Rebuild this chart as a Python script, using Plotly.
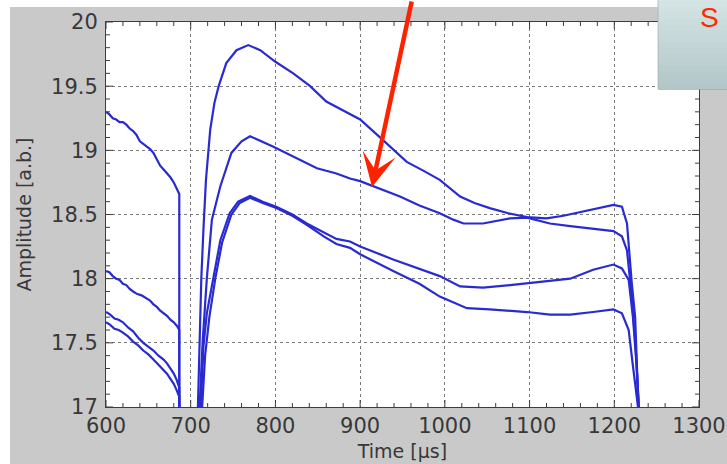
import plotly.graph_objects as go

# Amplitude traces over time, four pulses
time_a = [600, 604, 608, 612, 616, 620, 624, 628, 632, 636, 640, 644, 648, 652, 656,
          660, 664, 668, 672, 676, 680, 684, 686.5, 686.5,
          707, 708.5, 710.5, 712.5, 715, 718, 723, 728, 733, 742, 754, 768, 782, 800,
          821, 841, 860, 880, 900, 927, 955, 975, 994, 1018, 1035, 1053, 1075, 1097,
          1120, 1140, 1160, 1175, 1190, 1199, 1209, 1215, 1220.6, 1224.6, 1228.5, 1230]
amp_a = [19.30, 19.28, 19.25, 19.24, 19.22, 19.22, 19.20, 19.17, 19.15, 19.12, 19.07,
         19.05, 19.03, 19.01, 18.98, 18.93, 18.88, 18.85, 18.82, 18.79, 18.75, 18.70,
         18.66, 16.5, 16.5, 17.0, 17.5, 18.0, 18.38, 18.77, 19.16, 19.37, 19.50,
         19.68, 19.78, 19.82, 19.78, 19.69, 19.60, 19.50, 19.38, 19.31, 19.24, 19.08,
         18.91, 18.84, 18.77, 18.64, 18.59, 18.55, 18.51, 18.48, 18.47, 18.49, 18.52,
         18.54, 18.565, 18.575, 18.56, 18.43, 17.97, 17.70, 17.0, 16.5]

time_b = [600, 604, 608, 612, 616, 620, 624, 628, 632, 637, 642, 647, 652, 656, 660,
          664, 668, 672, 676, 680, 684, 686.5, 686.5, 709,
          710.5, 714, 719, 725, 735, 748, 760, 770, 797, 821, 849, 872, 888, 900, 916,
          947, 970, 994, 1010, 1022, 1045, 1077, 1097, 1124, 1148, 1175, 1199, 1209,
          1215, 1220, 1225, 1229, 1230]
amp_b = [18.06, 18.05, 18.02, 18.00, 17.99, 17.96, 17.95, 17.92, 17.90, 17.88, 17.87,
         17.85, 17.83, 17.80, 17.78, 17.75, 17.73, 17.71, 17.68, 17.66, 17.63, 17.60,
         16.5, 16.5, 17.0, 17.5, 18.0, 18.46, 18.72, 18.98, 19.07, 19.11, 19.03,
         18.95, 18.86, 18.82, 18.78, 18.76, 18.72, 18.64, 18.57, 18.51, 18.46, 18.43,
         18.43, 18.47, 18.475, 18.43, 18.41, 18.39, 18.37, 18.33, 18.22, 17.9, 17.5,
         17.0, 16.5]

time_c = [600, 605, 610, 615, 620, 626, 632, 638, 644, 650, 656, 662, 668, 672, 676,
          680, 683.5, 686.5, 686.5, 710, 712, 715,
          719, 727, 735, 746, 756, 770, 785, 801, 820, 837, 857, 872, 888, 900, 939,
          970, 994, 1018, 1045, 1077, 1097, 1120, 1148, 1175, 1199, 1209, 1217, 1222,
          1226, 1229, 1230]
amp_c = [17.74, 17.72, 17.69, 17.68, 17.66, 17.62, 17.59, 17.54, 17.50, 17.47, 17.44,
         17.40, 17.37, 17.34, 17.30, 17.26, 17.21, 17.15, 16.5,
         16.5, 17.0, 17.47, 17.73, 18.02, 18.30, 18.51, 18.60, 18.645, 18.60, 18.56,
         18.50, 18.43, 18.36, 18.31, 18.29, 18.25, 18.15, 18.08, 18.02, 17.94, 17.93,
         17.95, 17.965, 17.98, 18.00, 18.07, 18.11, 18.08, 17.99, 17.7, 17.35, 17.0, 16.5]

time_d = [600, 605, 610, 615, 620, 626, 632, 638, 644, 650, 656, 662, 668, 672, 676,
          680, 683.5, 686.5, 686.5, 711, 713.5, 717,
          722, 729, 737, 748, 758, 770, 785, 801, 820, 837, 857, 872, 888, 900, 939,
          970, 994, 1026, 1053, 1097, 1124, 1148, 1175, 1199, 1209, 1217, 1222, 1226,
          1228, 1229.5]
amp_d = [17.66, 17.64, 17.61, 17.60, 17.58, 17.55, 17.51, 17.48, 17.44, 17.41, 17.37,
         17.33, 17.29, 17.26, 17.22, 17.18, 17.13, 17.08, 16.5,
         16.5, 17.0, 17.4, 17.7, 18.0, 18.28, 18.50, 18.59, 18.63, 18.59, 18.55, 18.49,
         18.42, 18.33, 18.27, 18.24, 18.19, 18.06, 17.96, 17.86, 17.77, 17.76, 17.74,
         17.72, 17.72, 17.74, 17.76, 17.73, 17.60, 17.32, 17.1, 17.0, 16.5]

x_ticks = [600, 700, 800, 900, 1000, 1100, 1200, 1300]
y_ticks = [17, 17.5, 18, 18.5, 19, 19.5, 20]
x_minor_step = 20
y_minor_step = 0.1
x_range = [x_ticks[0], x_ticks[-1]]
y_range = [y_ticks[0], y_ticks[-1]]

# pointer target on the second trace
pointer_time = 914
pointer_amp = 18.715

LINE = "rgb(42,42,210)"
GRAY = "#c9c9c9"
TEXT = "#383838"
AXIS = "#3c3c3c"
TICK_FONT = "DejaVu Sans, sans-serif"
CAPTION_FONT = "Liberation Sans, Arial, sans-serif"

fig = go.Figure()
for tx, ay in [(time_a, amp_a), (time_b, amp_b), (time_c, amp_c), (time_d, amp_d)]:
    fig.add_trace(go.Scatter(x=tx, y=ay, mode="lines",
                             line=dict(color=LINE, width=2.2),
                             showlegend=False, hoverinfo="skip"))

# plot area geometry in pixels
L, R, T, B = 106, 28, 22, 57
W, H = 727, 464
pw, ph = W - L - R, H - T - B


def px_x(p):
    return (p - L) / pw


def px_y(p):
    return (H - B - p) / ph


shapes = [
    # white strips along the top and left of the grey window
    dict(type="rect", xref="paper", yref="paper", layer="above",
         x0=px_x(-5), x1=px_x(10), y0=px_y(H + 5), y1=px_y(-5),
         fillcolor="white", line=dict(width=0)),
    dict(type="rect", xref="paper", yref="paper", layer="above",
         x0=px_x(-5), x1=px_x(W + 5), y0=px_y(7), y1=px_y(-5),
         fillcolor="white", line=dict(width=0)),
]

# inward tick marks on all four sides of the frame (major and minor)
MAJOR_LEN, MINOR_LEN = 7, 4
n_x = int(round((x_range[1] - x_range[0]) / x_minor_step))
for i in range(n_x + 1):
    v = x_range[0] + i * x_minor_step
    ln = MAJOR_LEN if any(abs(v - t) < 1e-9 for t in x_ticks) else MINOR_LEN
    for base, sign in ((0.0, 1), (1.0, -1)):
        shapes.append(dict(type="line", xref="x", yref="paper", layer="above",
                           x0=v, x1=v, y0=base, y1=base + sign * ln / ph,
                           line=dict(color=AXIS, width=1)))
n_y = int(round((y_range[1] - y_range[0]) / y_minor_step))
for i in range(n_y + 1):
    v = round(y_range[0] + i * y_minor_step, 6)
    ln = MAJOR_LEN if any(abs(v - t) < 1e-9 for t in y_ticks) else MINOR_LEN
    for base, sign in ((0.0, 1), (1.0, -1)):
        shapes.append(dict(type="line", xref="paper", yref="y", layer="above",
                           x0=base, x1=base + sign * ln / pw, y0=v, y1=v,
                           line=dict(color=AXIS, width=1)))

# caption panel in the top-right corner (vertical gradient in bands)
top_c = (214, 229, 231)
bot_c = (180, 199, 200)
n = 16
bx0, bx1, by0, by1 = 658, W + 5, -5, 89
for i in range(n):
    f = i / (n - 1)
    c = tuple(int(top_c[k] + (bot_c[k] - top_c[k]) * f) for k in range(3))
    ya = by0 + (by1 - by0) * i / n
    yb = min(by1, by0 + (by1 - by0) * (i + 1) / n + 1.5)
    shapes.append(dict(type="rect", xref="paper", yref="paper", layer="above",
                       x0=px_x(bx0), x1=px_x(bx1), y0=px_y(yb), y1=px_y(ya),
                       fillcolor="rgb(%d,%d,%d)" % c, line=dict(width=0)))
shapes.append(dict(type="line", xref="paper", yref="paper", layer="above",
                   x0=px_x(bx0), x1=px_x(bx0), y0=px_y(by1), y1=px_y(0),
                   line=dict(color="rgba(160,178,178,0.7)", width=1)))
shapes.append(dict(type="line", xref="paper", yref="paper", layer="above",
                   x0=px_x(bx0), x1=px_x(bx1), y0=px_y(by1 + 0.5), y1=px_y(by1 + 0.5),
                   line=dict(color="rgba(150,168,168,0.7)", width=1)))

axis_common = dict(
    showline=True, linecolor=AXIS, linewidth=1, mirror=True,
    automargin=False, ticks="",
    showgrid=True, gridcolor="#7a7a7a", griddash="dot", gridwidth=1,
    zeroline=False,
    tickfont=dict(family=TICK_FONT, size=21, color=TEXT),
)

fig.update_layout(
    width=W, height=H,
    margin=dict(l=L, r=R, t=T, b=B),
    paper_bgcolor=GRAY, plot_bgcolor="white",
    shapes=shapes,
    xaxis=dict(range=x_range, tickvals=x_ticks,
               title=dict(text="Time [µs]", standoff=7,
                          font=dict(family=TICK_FONT, size=19, color=TEXT)),
               **axis_common),
    yaxis=dict(range=y_range, tickvals=y_ticks,
               ticklabelstandoff=3,
               title=dict(text="Amplitude [a.b.]", standoff=14,
                          font=dict(family=TICK_FONT, size=19, color=TEXT)),
               **axis_common),
    annotations=[
        dict(x=pointer_time, y=pointer_amp, xref="x", yref="y",
             ax=40, ay=-192, axref="pixel", ayref="pixel",
             showarrow=True, arrowhead=3, arrowsize=1.25, arrowwidth=4.5,
             arrowcolor="#ff2200", text=""),
        dict(x=px_x(698), y=px_y(17), xref="paper", yref="paper",
             xanchor="left", yanchor="middle", showarrow=False, text="S",
             font=dict(family=CAPTION_FONT, size=28, color="#ff2a00")),
    ],
)

fig.write_html("out.html")
